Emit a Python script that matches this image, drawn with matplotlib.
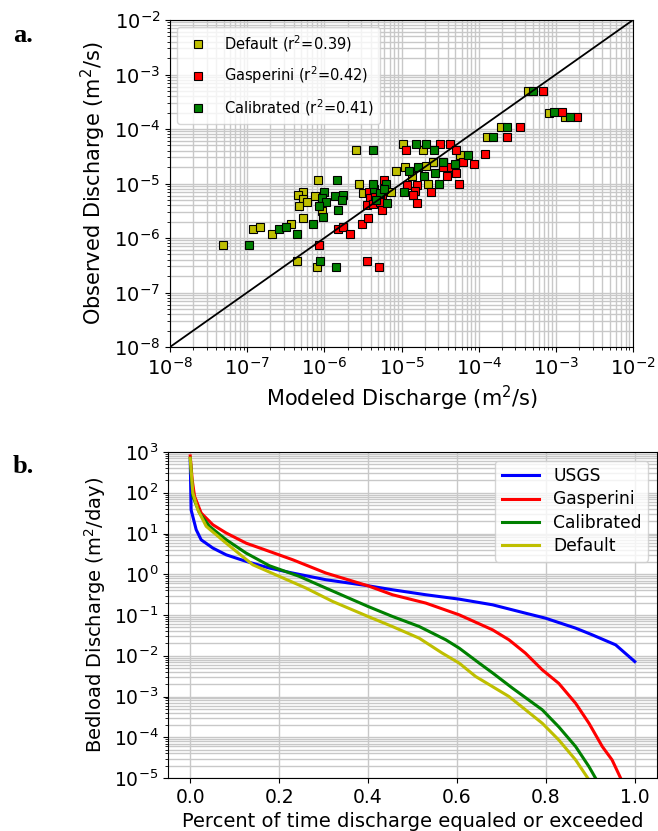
import numpy as np
import matplotlib
matplotlib.use("Agg")
import matplotlib.pyplot as plt

# a. modeled vs observed discharge (m2/s)
default_mod = [4.8e-8, 1.2e-7, 1.47e-7, 2.08e-7, 3.66e-7, 5.25e-7, 4.45e-7, 8.1e-7, 8.4e-7, 5.3e-7,
               4.6e-7, 5.25e-7, 5.9e-7, 4.7e-7, 9.25e-7, 7.6e-7, 2.57e-6, 1.04e-5, 1.88e-5, 5.7e-5,
               2.53e-5, 1.11e-5, 8.5e-6, 1.38e-5, 2.08e-5, 2.84e-6, 2.22e-5, 7.24e-6, 3.15e-6, 1.95e-4,
               1.27e-4, 4.3e-4, 8.15e-4, 1.33e-3]
default_obs = [7.4e-7, 1.45e-6, 1.61e-6, 1.18e-6, 1.8e-6, 2.35e-6, 3.85e-7, 2.95e-7, 1.16e-5, 7.1e-6,
               6.1e-6, 5.2e-6, 4.6e-6, 3.9e-6, 3.1e-6, 5.95e-6, 4.1e-5, 5.3e-5, 4.1e-5, 3.3e-5,
               2.5e-5, 2.0e-5, 1.67e-5, 1.37e-5, 2.1e-5, 9.7e-6, 9.7e-6, 7.1e-6, 6.8e-6, 1.07e-4,
               7.05e-5, 4.9e-4, 2.0e-4, 1.66e-4]

gas_mod = [8.6e-7, 1.52e-6, 1.73e-6, 2.15e-6, 3.05e-6, 3.7e-6, 3.54e-6, 5.15e-6, 3.83e-6, 3.9e-6,
           4.53e-6, 5.53e-6, 3.54e-6, 4.24e-6, 5.26e-6, 5.53e-6, 5.9e-6, 1.14e-5, 3.15e-5, 4.25e-5,
           5.08e-5, 6.2e-5, 8.6e-5, 4.16e-5, 3.42e-5, 3.92e-5, 5.08e-5, 1.19e-5, 1.57e-5, 5.6e-5,
           1.5e-5, 1.4e-5, 2.39e-5, 1.6e-5, 1.21e-4, 2.31e-4, 3.4e-4, 6.76e-4, 1.2e-3, 1.86e-3]
gas_obs = [7.4e-7, 1.45e-6, 1.61e-6, 1.18e-6, 1.81e-6, 2.3e-6, 3.83e-7, 2.97e-7, 7.08e-6, 5.35e-6,
           5.73e-6, 5.73e-6, 4.03e-6, 4.2e-6, 4.63e-6, 3.3e-6, 1.16e-5, 4.12e-5, 5.3e-5, 5.3e-5,
           4.2e-5, 2.5e-5, 2.25e-5, 2.03e-5, 2.0e-5, 1.39e-5, 1.58e-5, 9.4e-6, 9.3e-6, 9.66e-6,
           7.2e-6, 6.1e-6, 7.08e-6, 4.3e-6, 3.45e-5, 7.05e-5, 1.07e-4, 4.92e-4, 2.01e-4, 1.66e-4]

cal_mod = [1.06e-7, 2.6e-7, 3.2e-7, 4.4e-7, 7.1e-7, 8.8e-7, 1.4e-6, 1.47e-6, 1.0e-6, 9.25e-7,
           1.05e-6, 8.6e-7, 9.7e-7, 1.37e-6, 1.52e-6, 1.76e-6, 1.68e-6, 4.24e-6, 1.52e-5, 2.1e-5,
           2.64e-5, 7.27e-5, 3.47e-5, 4.96e-5, 1.26e-5, 1.62e-5, 2.68e-5, 1.93e-5, 4.4e-6, 6.3e-6,
           5.26e-6, 5.93e-6, 4.67e-6, 6.55e-6, 4.24e-6, 3.09e-5, 1.08e-5, 1.55e-4, 2.35e-4, 5.06e-4,
           9.5e-4, 1.51e-3]
cal_obs = [7.4e-7, 1.45e-6, 1.61e-6, 1.18e-6, 1.81e-6, 3.83e-7, 2.97e-7, 1.16e-5, 7.1e-6, 5.35e-6,
           4.63e-6, 3.87e-6, 2.38e-6, 5.95e-6, 3.33e-6, 6.1e-6, 4.9e-6, 4.12e-5, 5.3e-5, 5.3e-5,
           4.12e-5, 3.33e-5, 2.53e-5, 2.25e-5, 1.69e-5, 1.98e-5, 1.58e-5, 1.37e-5, 7.83e-6, 9.66e-6,
           6.7e-6, 7.83e-6, 4.98e-6, 4.33e-6, 9.66e-6, 9.66e-6, 7.1e-6, 7.05e-5, 1.07e-4, 4.92e-4,
           2.01e-4, 1.66e-4]

# b. flow duration curves (m2/day)
frac_usgs = [0, 0.001, 0.002, 0.0134, 0.0246, 0.0508, 0.0808, 0.1257, 0.178, 0.2305, 0.3053,
             0.40, 0.455, 0.530, 0.605, 0.680, 0.754, 0.799, 0.867, 0.904, 0.957, 1.0]
q_usgs = [600, 150, 38, 12.4, 7.0, 4.4, 3.0, 2.07, 1.42, 1.07, 0.733,
          0.522, 0.416, 0.314, 0.245, 0.178, 0.111, 0.0837, 0.0476, 0.0327, 0.0185, 0.0072]

frac_gas = [0, 0.0044, 0.0097, 0.0246, 0.0508, 0.0808, 0.1257, 0.178, 0.2305, 0.3053, 0.40, 0.455,
            0.530, 0.605, 0.680, 0.717, 0.754, 0.792, 0.829, 0.867, 0.897, 0.927, 0.949, 0.97]
q_gas = [800, 210, 82, 31.8, 16.4, 10.3, 5.8, 3.64, 2.27, 1.07, 0.52, 0.314,
         0.196, 0.101, 0.0433, 0.0246, 0.0116, 4.5e-3, 2.1e-3, 6.8e-4, 2.2e-4, 5.9e-5, 2.77e-5, 9e-6]

frac_cal = [0, 0.0059, 0.0209, 0.0433, 0.0808, 0.1257, 0.178, 0.2455, 0.3053, 0.40, 0.455,
            0.515, 0.575, 0.605, 0.650, 0.680, 0.725, 0.792, 0.829, 0.867, 0.897, 0.914]
q_cal = [700, 82, 31.8, 15, 7.05, 3.31, 1.62, 0.885, 0.457, 0.162, 0.092,
         0.0523, 0.0246, 0.0154, 6.6e-3, 3.8e-3, 1.6e-3, 4.7e-4, 1.8e-4, 5.9e-5, 1.9e-5, 9e-6]

frac_def = [0, 0.0059, 0.0172, 0.0359, 0.0808, 0.1406, 0.2006, 0.2605, 0.3204, 0.40,
            0.455, 0.515, 0.567, 0.605, 0.642, 0.717, 0.792, 0.829, 0.867, 0.897]
q_def = [700, 99, 38, 15, 5.8, 1.71, 0.885, 0.457, 0.215, 0.092,
         0.052, 0.027, 0.0116, 6.6e-3, 3.1e-3, 1.0e-3, 2.2e-4, 8.6e-5, 2.77e-5, 9e-6]

W, H = 658, 831
fig = plt.figure(figsize=(W / 100, H / 100), dpi=100)

# --- panel a ---
ax1 = fig.add_axes([170 / W, 1 - 347 / H, 463 / W, 327 / H])
mk = dict(marker='s', linestyle='none', markersize=5.5, markeredgecolor='k', markeredgewidth=0.8)
ax1.plot(default_mod, default_obs, color='y', label='Default (r$^2$=0.39)', **mk)
ax1.plot(gas_mod, gas_obs, color='r', label='Gasperini (r$^2$=0.42)', **mk)
ax1.plot(cal_mod, cal_obs, color='g', label='Calibrated (r$^2$=0.41)', **mk)
ax1.plot([1e-8, 1e-2], [1e-8, 1e-2], c='k', lw=1.3)
ax1.set_xscale('log')
ax1.set_yscale('log')
ax1.set_xlim(1e-8, 1e-2)
ax1.set_ylim(1e-8, 1e-2)
ax1.grid(True, which='both', color='#c8c8c8', lw=1)
ax1.set_axisbelow(True)
ax1.tick_params(labelsize=14)
ax1.set_xlabel('Modeled Discharge (m$^2$/s)', fontsize=15)
ax1.set_ylabel('Observed Discharge (m$^2$/s)', fontsize=15)
ax1.legend(loc='upper left', numpoints=1, fontsize=10.5, labelspacing=0.75)

# --- panel b ---
ax2 = fig.add_axes([168 / W, 1 - 778 / H, 489 / W, 326 / H])
ax2.plot(frac_usgs, q_usgs, c='b', lw=2.2, label='USGS')
ax2.plot(frac_gas, q_gas, c='r', lw=2.2, label='Gasperini')
ax2.plot(frac_cal, q_cal, c='g', lw=2.2, label='Calibrated')
ax2.plot(frac_def, q_def, c='y', lw=2.2, label='Default')
ax2.set_yscale('log')
ax2.set_ylim(1e-5, 1e3)
ax2.set_xlim(-0.05, 1.05)
ax2.set_yticks([10.0 ** k for k in range(-5, 4)])
ax2.grid(True, which='major', color='#c8c8c8', lw=1)
ax2.grid(True, which='minor', axis='y', color='#c8c8c8', lw=1)
ax2.tick_params(labelsize=13.5)
ax2.set_xlabel('Percent of time discharge equaled or exceeded', fontsize=14)
ax2.set_ylabel('Bedload Discharge (m$^2$/day)', fontsize=14)
ax2.legend(loc='upper right', fontsize=12.3, labelspacing=0.3, handlelength=2.2)

fig.text(13 / W, 1 - 42 / H, 'a.', fontsize=19, fontweight='bold', family='Liberation Serif')
fig.text(13 / W, 1 - 473 / H, 'b.', fontsize=19, fontweight='bold', family='Liberation Serif')

fig.savefig('out.png', dpi=100)
